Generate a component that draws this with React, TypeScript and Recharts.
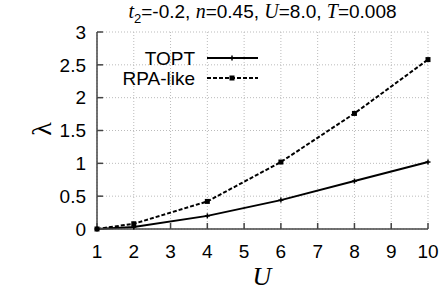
import { LineChart, Line, XAxis, YAxis, CartesianGrid } from 'recharts';

// values
const uValues = [1, 2, 4, 6, 8, 10];
const toptValues = [0, 0.03, 0.2, 0.44, 0.73, 1.02];
const rpaValues = [0, 0.08, 0.42, 1.02, 1.76, 2.58];
const xTicks = [1, 2, 3, 4, 5, 6, 7, 8, 9, 10];
const yTicks = [0, 0.5, 1, 1.5, 2, 2.5, 3];
const seriesNames = ['TOPT', 'RPA-like'];

const data = uValues.map((u, i) => ({ u, topt: toptValues[i], rpa: rpaValues[i] }));

const SANS = '"Liberation Sans", Arial, Helvetica, sans-serif';
const SERIF = '"Liberation Serif", "Times New Roman", serif';
const BORDER = '#444';

const PlusDot = (props: any) => {
    const { cx, cy } = props;
    if (cx == null || cy == null) return null;
    return (
        <g>
            <line x1={cx - 2.5} y1={cy} x2={cx + 2.5} y2={cy} stroke="#000" strokeWidth={1.5} />
            <line x1={cx} y1={cy - 2.5} x2={cx} y2={cy + 2.5} stroke="#000" strokeWidth={1.5} />
        </g>
    );
};

const SquareDot = (props: any) => {
    const { cx, cy } = props;
    if (cx == null || cy == null) return null;
    return <rect x={cx - 2.5} y={cy - 2.5} width={5} height={5} fill="#000" />;
};

// key drawn the gnuplot way: label right aligned, sample line after it
const KeyBox = () => (
    <svg width={160} height={44} style={{ position: 'absolute', left: 110, top: 44 }}>
        {seriesNames.map((name, i) => {
            const y = 14 + i * 20;
            return (
                <g key={name}>
                    <text x={85} y={y} dy="0.35em" textAnchor="end" fontFamily={SANS} fontSize={19} fill="#000">
                        {name}
                    </text>
                    <line
                        x1={97}
                        y1={y}
                        x2={148}
                        y2={y}
                        stroke="#000"
                        strokeWidth={2}
                        strokeDasharray={i === 0 ? undefined : '4 2'}
                    />
                    {i === 0 ? <PlusDot cx={122} cy={y} /> : <SquareDot cx={122} cy={y} />}
                </g>
            );
        })}
    </svg>
);

export default function App() {
    return (
        <div style={{ position: 'absolute', left: 0, top: 0, width: 440, height: 294, background: '#fff' }}>
            <LineChart width={440} height={294} data={data} margin={{ top: 32, right: 12, bottom: 0, left: 0 }}>
                <CartesianGrid stroke="#bbb" strokeDasharray="1 2" />
                <XAxis
                    dataKey="u"
                    type="number"
                    domain={[1, 10]}
                    ticks={xTicks}
                    height={65}
                    stroke={BORDER}
                    strokeWidth={1.5}
                    tickSize={-6}
                    tickMargin={22}
                    tick={{ fill: '#000', fontFamily: SANS, fontSize: 19 }}
                    interval={0}
                />
                <XAxis
                    xAxisId="top"
                    orientation="top"
                    dataKey="u"
                    type="number"
                    domain={[1, 10]}
                    ticks={xTicks}
                    height={0}
                    stroke={BORDER}
                    strokeWidth={1.5}
                    tickSize={-6}
                    tick={false}
                />
                <YAxis
                    type="number"
                    domain={[0, 3]}
                    ticks={yTicks}
                    width={97}
                    stroke={BORDER}
                    strokeWidth={1.5}
                    tickSize={-6}
                    tickMargin={17}
                    tick={{ fill: '#000', fontFamily: SANS, fontSize: 19 }}
                    interval={0}
                />
                <YAxis
                    yAxisId="right"
                    orientation="right"
                    type="number"
                    domain={[0, 3]}
                    ticks={yTicks}
                    width={0}
                    stroke={BORDER}
                    strokeWidth={1.5}
                    tickSize={-6}
                    tick={false}
                />
                <Line
                    dataKey="topt"
                    name={seriesNames[0]}
                    stroke="#000"
                    strokeWidth={2}
                    dot={<PlusDot />}
                    isAnimationActive={false}
                />
                <Line
                    dataKey="rpa"
                    name={seriesNames[1]}
                    stroke="#000"
                    strokeWidth={2}
                    strokeDasharray="4 2"
                    dot={<SquareDot />}
                    isAnimationActive={false}
                />
            </LineChart>
            <KeyBox />
            {/* title */}
            <div
                style={{
                    position: 'absolute',
                    left: 97,
                    width: 331,
                    top: 0,
                    textAlign: 'center',
                    fontFamily: SANS,
                    fontSize: 19,
                    color: '#000',
                    whiteSpace: 'nowrap',
                }}
            >
                <i style={{ fontFamily: SERIF, fontSize: 20 }}>t</i>
                <sub style={{ fontSize: 13 }}>2</sub>=-0.2, <i style={{ fontFamily: SERIF, fontSize: 20 }}>n</i>=0.45,{' '}
                <i style={{ fontFamily: SERIF, fontSize: 20 }}>U</i>=8.0, <i style={{ fontFamily: SERIF, fontSize: 20 }}>T</i>=0.008
            </div>
            {/* axis labels */}
            <div
                style={{
                    position: 'absolute',
                    left: 247,
                    width: 30,
                    top: 262,
                    textAlign: 'center',
                    fontFamily: SERIF,
                    fontStyle: 'italic',
                    fontSize: 26,
                    color: '#000',
                }}
            >
                U
            </div>
            <div
                style={{
                    position: 'absolute',
                    left: 27,
                    top: 113,
                    width: 30,
                    height: 32,
                    textAlign: 'center',
                    fontFamily: SERIF,
                    fontSize: 28,
                    lineHeight: '32px',
                    color: '#000',
                    transform: 'rotate(-90deg)',
                }}
            >
                λ
            </div>
        </div>
    );
}
